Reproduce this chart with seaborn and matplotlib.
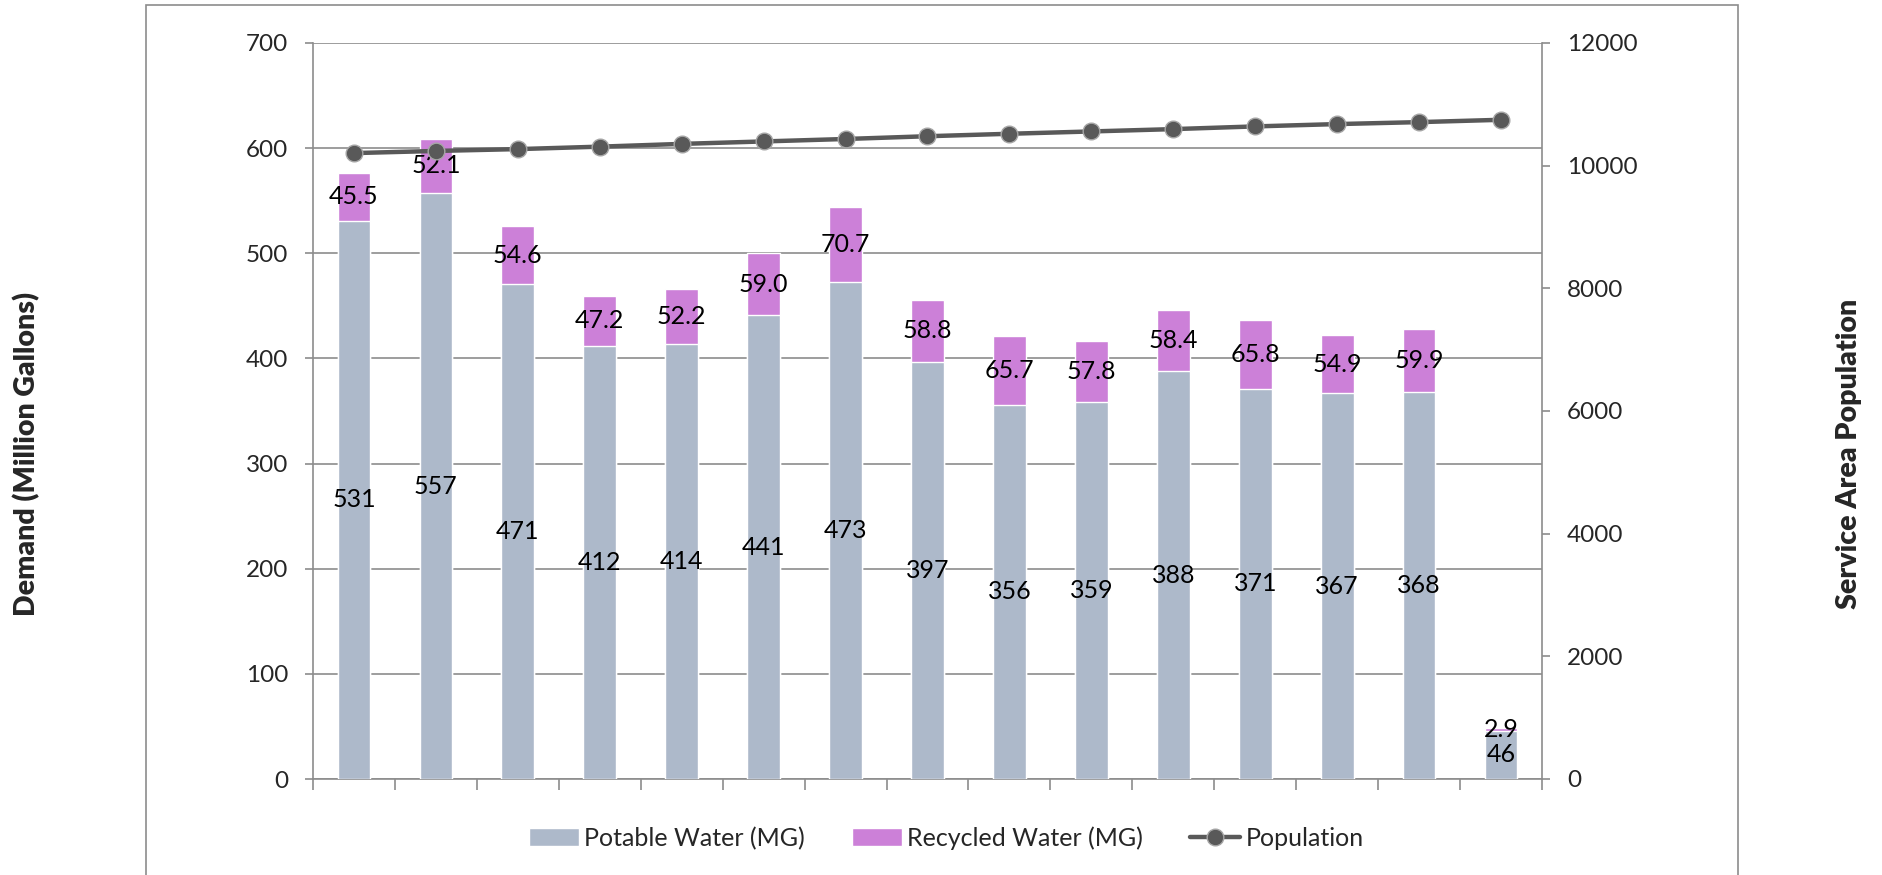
import numpy as np
import pandas as pd
import seaborn as sns
import matplotlib.pyplot as plt
from matplotlib.patches import Rectangle, Patch
from matplotlib.lines import Line2D

# data (categories have no visible labels)
periods = [str(i) for i in range(1, 16)]
potable = [531, 557, 471, 412, 414, 441, 473, 397, 356, 359, 388, 371, 367, 368, 46]
recycled = [45.5, 52.1, 54.6, 47.2, 52.2, 59.0, 70.7, 58.8, 65.7, 57.8, 58.4, 65.8, 54.9, 59.9, 2.9]
population = [10205, 10240, 10270, 10310, 10355, 10395, 10435, 10480, 10520,
              10558, 10596, 10640, 10678, 10710, 10748]

potable_color = "#ADB9CA"
recycled_color = "#CC80D8"
line_color = "#595959"
grid_color = "#8C8C8C"

sns.set_theme(style="white")
plt.rcParams["font.family"] = ["Lato", "DejaVu Sans"]

df = pd.DataFrame({"period": periods, "potable": potable, "recycled": recycled})
df["total"] = df["potable"] + df["recycled"]

fig = plt.figure(figsize=(18.83, 8.75), dpi=100)
ax = fig.add_axes([313 / 1883, 1 - 779 / 875, (1542 - 313) / 1883, (779 - 43) / 875])

# stacked bars: total first, potable drawn on top of it
sns.barplot(data=df, x="period", y="total", color=recycled_color, width=0.4,
            saturation=1, ax=ax, zorder=2)
sns.barplot(data=df, x="period", y="potable", color=potable_color, width=0.4,
            saturation=1, ax=ax, zorder=3)

# labels in the middle of each segment
for i, row in df.iterrows():
    ax.text(i, row["potable"] / 2, f"{row['potable']:.0f}", ha="center", va="center",
            fontsize=18, color="black", zorder=5)
    ax.text(i, row["potable"] + row["recycled"] / 2, f"{row['recycled']:.1f}",
            ha="center", va="center", fontsize=18, color="black", zorder=5)

ax.set_ylim(0, 700)
ax.set_xlim(-0.5, len(periods) - 0.5)
ax.set_yticks(range(0, 701, 100))
ax.set_xticks(np.arange(len(periods) + 1) - 0.5)
ax.set_xticklabels([])
ax.set_xlabel("")
ax.set_ylabel("")
ax.yaxis.grid(True, color=grid_color, linewidth=1.2)
ax.set_axisbelow(True)
ax.tick_params(axis="y", left=True, length=6, width=1.2, color=grid_color, pad=12,
               labelsize=17.5)
ax.tick_params(axis="x", bottom=True, length=8, width=1.2, color=grid_color)
for s in ["top", "right"]:
    ax.spines[s].set_visible(False)
for s in ["left", "bottom"]:
    ax.spines[s].set_color(grid_color)
    ax.spines[s].set_linewidth(1.2)

# population on the second axis
ax2 = ax.twinx()
sns.lineplot(x=np.arange(len(periods)), y=population, ax=ax2, color=line_color,
             linewidth=3.2, marker="o", markersize=12, markerfacecolor=line_color,
             markeredgecolor="#A6A6A6", markeredgewidth=1, zorder=6)
ax2.set_ylim(0, 12000)
ax2.set_yticks(range(0, 12001, 2000))
ax2.set_ylabel("")
ax2.tick_params(axis="y", right=True, length=6, width=1.2, color=grid_color, pad=12,
                labelsize=17.5)
for s in ["top", "left", "bottom"]:
    ax2.spines[s].set_visible(False)
ax2.spines["right"].set_color(grid_color)
ax2.spines["right"].set_linewidth(1.2)

fig.text(27 / 1883, 1 - 454 / 875, "Demand (Million Gallons)", rotation=90,
         ha="center", va="center", fontsize=20.5, fontweight="heavy")
fig.text(1849 / 1883, 1 - 454 / 875, "Service Area Population", rotation=90,
         ha="center", va="center", fontsize=20.5, fontweight="heavy")

handles = [
    Patch(facecolor=potable_color, label="Potable Water (MG)"),
    Patch(facecolor=recycled_color, label="Recycled Water (MG)"),
    Line2D([], [], color=line_color, linewidth=3.2, marker="o", markersize=12,
           markerfacecolor=line_color, markeredgecolor="#A6A6A6", label="Population"),
]
fig.legend(handles=handles, loc="center", bbox_to_anchor=(946 / 1883, 1 - 838 / 875),
           ncol=3, frameon=False, fontsize=18, handlelength=2.0, handleheight=0.75,
           handletextpad=0.2, columnspacing=1.9)

# chart area border
fig.add_artist(Rectangle((146 / 1883, -0.1), (1738 - 146) / 1883, 0.1 + 1 - 5 / 875,
                         transform=fig.transFigure, fill=False, edgecolor=grid_color,
                         linewidth=1.2))

fig.savefig("out.png", dpi=100)
